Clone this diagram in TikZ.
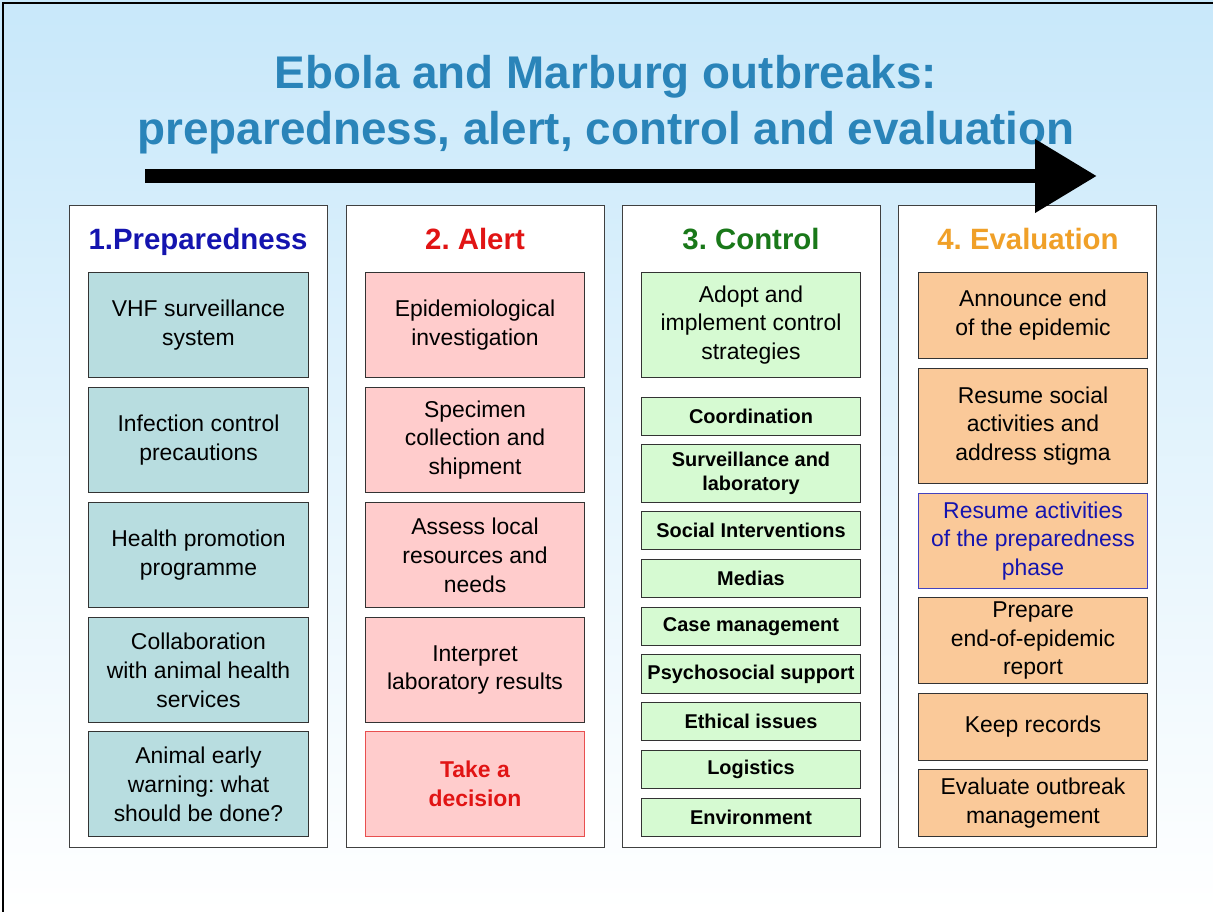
\documentclass[tikz,border=0pt]{standalone}
\usepackage{fontspec}
\setmainfont{Liberation Sans}
\usetikzlibrary{arrows.meta}
\frenchspacing

\definecolor{bgtop}{RGB}{200,232,250}
\definecolor{titleblue}{RGB}{42,132,185}
\definecolor{prepblue}{RGB}{20,20,175}
\definecolor{alertred}{RGB}{225,20,20}
\definecolor{ctrlgreen}{RGB}{25,120,25}
\definecolor{evalorange}{RGB}{240,160,40}
\definecolor{prepfill}{RGB}{184,221,224}
\definecolor{alertfill}{RGB}{255,204,204}
\definecolor{ctrlfill}{RGB}{214,250,210}
\definecolor{evalfill}{RGB}{250,201,153}

\begin{document}
\begin{tikzpicture}[x=1bp,y=-1bp,
  every node/.style = {inner sep=0pt, align=center},
  title/.style = {anchor=base, text=titleblue,
    font=\fontsize{46}{55}\selectfont\bfseries},
  colframe/.style = {draw=black!75, line width=1.2bp, fill=white,
    anchor=north west, minimum width=258bp, minimum height=642bp},
  heading/.style = {anchor=base, font=\fontsize{29.5}{34}\selectfont\bfseries},
  box/.style = {draw=black!80, line width=1bp, anchor=north west,
    font=\fontsize{23}{29}\selectfont},
  prepbox/.style = {box, fill=prepfill, minimum width=220bp, minimum height=105bp},
  alertbox/.style = {box, fill=alertfill, minimum width=219bp, minimum height=105bp},
  ctrlbox/.style = {box, fill=ctrlfill, minimum width=219bp, minimum height=38bp,
    font=\fontsize{20}{24}\selectfont\bfseries},
  evalbox/.style = {box, fill=evalfill, minimum width=229bp}]

  \useasboundingbox (0,0) rectangle (1213,912);
  \shade[top color=bgtop, bottom color=white] (0,0) rectangle (1213,912);
  \draw[line width=2bp] (1213,3) -- (3,3) -- (3,912);

  % title
  \node[title] (title1) at (606,88) {Ebola and Marburg outbreaks:};
  \node[title] (title2) at (606,144) {preparedness, alert, control and evaluation};

  % the four phases
  \node[colframe] (col1) at (69,205) {};
  \node[colframe] (col2) at (346,205) {};
  \node[colframe] (col3) at (622,205) {};
  \node[colframe] (col4) at (898,205) {};
  \node[heading, text=prepblue] (head1) at (198,249) {1.Preparedness};
  \node[heading, text=alertred] (head2) at (475,249) {2. Alert};
  \node[heading, text=ctrlgreen] (head3) at (751,249) {3. Control};
  \node[heading, text=evalorange] (head4) at (1028,249) {4. Evaluation};

  % time arrow
  \coordinate (arrowstart) at (145,176);
  \coordinate (arrowend) at (1097,176);
  \draw[line width=14bp, -{Triangle[length=62bp,width=70bp]}] (arrowstart) -- (arrowend);

  % 1. preparedness
  \node[prepbox] (vhf) at (88,272) {VHF surveillance\\system};
  \node[prepbox] (infection) at (88,387) {Infection control\\precautions};
  \node[prepbox] (promotion) at (88,502) {Health promotion\\programme};
  \node[prepbox] (animalhealth) at (88,617) {Collaboration\\with animal health\\services};
  \node[prepbox] (earlywarning) at (88,731) {Animal early\\warning: what\\should be done?};

  % 2. alert
  \node[alertbox] (investigation) at (365,272) {Epidemiological\\investigation};
  \node[alertbox] (specimen) at (365,387) {Specimen\\collection and\\shipment};
  \node[alertbox] (resources) at (365,502) {Assess local\\resources and\\needs};
  \node[alertbox] (labresults) at (365,617) {Interpret\\laboratory results};
  \node[alertbox, draw=alertred!75, text=alertred,
    font=\fontsize{23}{29}\selectfont\bfseries] (decision) at (365,731) {Take a\\decision};

  % 3. control
  \node[ctrlbox, minimum height=105bp, font=\fontsize{23}{29}\selectfont] (adopt)
    at (641,272) {Adopt and\\implement control\\strategies};
  \node[ctrlbox] (coordination) at (641,397) {Coordination};
  \node[ctrlbox, minimum height=58bp] (surveillance) at (641,444) {Surveillance and\\laboratory};
  \node[ctrlbox] (social) at (641,511) {Social Interventions};
  \node[ctrlbox] (medias) at (641,559) {Medias};
  \node[ctrlbox] (casemgmt) at (641,607) {Case management};
  \node[ctrlbox, minimum height=39bp] (psychosocial) at (641,654) {Psychosocial support};
  \node[ctrlbox] (ethical) at (641,702) {Ethical issues};
  \node[ctrlbox] (logistics) at (641,750) {Logistics};
  \node[ctrlbox] (environment) at (641,798) {Environment};

  % 4. evaluation
  \node[evalbox, minimum height=86bp] (announce) at (918,272) {Announce end\\of the epidemic};
  \node[evalbox, minimum height=115bp] (resumesocial) at (918,368) {Resume social\\activities and\\address stigma};
  \node[evalbox, minimum height=95bp, draw=prepblue!80, text=prepblue] (resumeprep)
    at (918,493) {Resume activities\\of the preparedness\\phase};
  \node[evalbox, minimum height=86bp] (report) at (918,597) {Prepare\\end-of-epidemic\\report};
  \node[evalbox, minimum height=67bp] (records) at (918,693) {Keep records};
  \node[evalbox, minimum height=67bp] (evaluate) at (918,769) {Evaluate outbreak\\management};
\end{tikzpicture}
\end{document}
